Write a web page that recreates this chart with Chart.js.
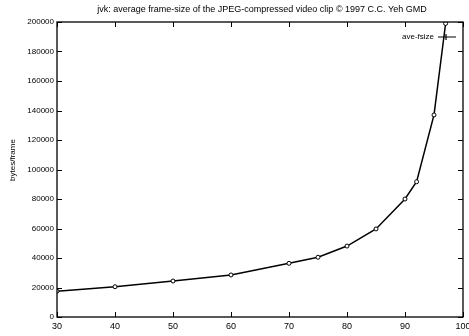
<!DOCTYPE html>
<html><head><meta charset="utf-8">
<script src="https://cdn.jsdelivr.net/npm/chart.js@4.4.1/dist/chart.umd.min.js"></script>
<style>html,body{margin:0;padding:0;background:#fff}#wrap{width:469px;height:336px}</style>
</head><body><div id="wrap"><canvas id="c" width="469" height="336"></canvas></div>
<script>
const chartTitle = "jvk: average frame-size of the JPEG-compressed video clip \u00a9 1997 C.C. Yeh GMD";
const yTitle = "bytes/frame";
const seriesName = "ave-fsize";
const quality = [30, 40, 50, 60, 70, 75, 80, 85, 90, 92, 95, 97];
const frameSize = [17500, 20500, 24400, 28500, 36400, 40500, 48100, 59700, 80000, 91700, 137000, 199000];
const xTicks = [30, 40, 50, 60, 70, 80, 90, 100];
const yTicks = [0, 20000, 40000, 60000, 80000, 100000, 120000, 140000, 160000, 180000, 200000];

const FONT = "Liberation Sans, Arial, sans-serif";

const decor = {
  id: 'decor',
  afterDraw(chart) {
    const {ctx, chartArea: a, scales: {x, y}} = chart;
    ctx.save();
    ctx.strokeStyle = '#000';
    ctx.lineWidth = 1.3;
    ctx.strokeRect(a.left, a.top, a.right - a.left, a.bottom - a.top);
    ctx.lineWidth = 1;
    ctx.beginPath();
    yTicks.forEach(v => {
      const py = Math.round(y.getPixelForValue(v)) + 0.5;
      ctx.moveTo(a.left, py); ctx.lineTo(a.left + 5, py);
      ctx.moveTo(a.right, py); ctx.lineTo(a.right - 5, py);
    });
    xTicks.forEach(v => {
      const px = Math.round(x.getPixelForValue(v)) + 0.5;
      ctx.moveTo(px, a.bottom); ctx.lineTo(px, a.bottom - 5);
      ctx.moveTo(px, a.top); ctx.lineTo(px, a.top + 5);
    });
    ctx.stroke();
    ctx.fillStyle = '#000';
    ctx.font = '9px ' + FONT;
    ctx.textAlign = 'center';
    ctx.textBaseline = 'middle';
    ctx.fillText(chartTitle, (a.left + a.right) / 2 + 2, 10);
    ctx.save();
    ctx.font = '8px ' + FONT;
    ctx.translate(13, 160);
    ctx.rotate(-Math.PI / 2);
    ctx.fillText(yTitle, 0, 0);
    ctx.restore();
    const ly = 37;
    ctx.font = '8px ' + FONT;
    ctx.textAlign = 'right';
    ctx.fillText(seriesName, 434, ly);
    ctx.beginPath();
    ctx.lineWidth = 1.2;
    ctx.moveTo(438, ly); ctx.lineTo(456, ly);
    ctx.moveTo(446, ly - 3); ctx.lineTo(446, ly + 3);
    ctx.stroke();
    ctx.restore();
  }
};

new Chart(document.getElementById('c'), {
  type: 'line',
  data: {
    datasets: [{
      label: seriesName,
      data: quality.map((q, i) => ({x: q, y: frameSize[i]})),
      borderColor: '#000',
      borderWidth: 1.5,
      pointRadius: 2,
      pointBorderWidth: 1,
      pointBackgroundColor: '#fff',
      pointBorderColor: '#000',
      tension: 0,
      clip: 0
    }]
  },
  options: {
    responsive: false,
    animation: false,
    devicePixelRatio: 1,
    layout: {padding: {top: 22, right: 6, left: 0, bottom: 0}},
    plugins: {legend: {display: false}, title: {display: false}, tooltip: {enabled: false}},
    scales: {
      x: {
        type: 'linear', min: 30, max: 100,
        afterBuildTicks: s => { s.ticks = xTicks.map(v => ({value: v})); },
        afterFit: s => { s.height = 19; s.paddingLeft = 0; s.paddingRight = 0; },
        grid: {display: false, drawTicks: false},
        border: {display: false},
        ticks: {color: '#000', font: {family: FONT, size: 9}, padding: 4, maxRotation: 0}
      },
      y: {
        type: 'linear', min: 0, max: 200000,
        afterBuildTicks: s => { s.ticks = yTicks.map(v => ({value: v})); },
        afterFit: s => { s.width = 57; s.paddingTop = 0; s.paddingBottom = 0; },
        grid: {display: false, drawTicks: false},
        border: {display: false},
        ticks: {color: '#000', font: {family: FONT, size: 8}, padding: 3, callback: v => String(v)}
      }
    }
  },
  plugins: [decor]
});
</script></body></html>
